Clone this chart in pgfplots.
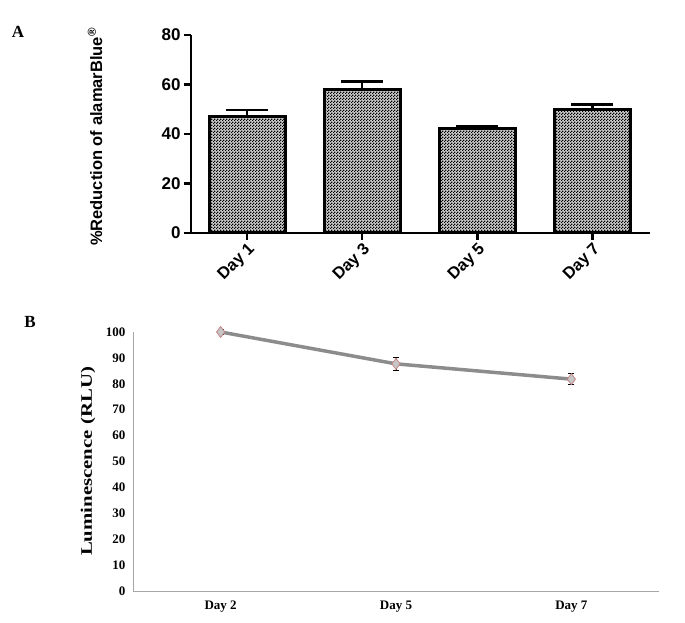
\documentclass[border=0pt]{standalone}
\usepackage{pgfplots}
\pgfplotsset{compat=1.18}
\usepackage{fontspec}
\setmainfont{Liberation Serif}
\setsansfont{Liberation Sans}
\usetikzlibrary{patterns}
\pgfdeclarepatternformonly{finecheck}{\pgfpointorigin}{\pgfpoint{3pt}{3pt}}{\pgfpoint{3pt}{3pt}}{%
  \pgfpathrectangle{\pgfpointorigin}{\pgfpoint{1.5pt}{1.5pt}}%
  \pgfpathrectangle{\pgfpoint{1.5pt}{1.5pt}}{\pgfpoint{1.5pt}{1.5pt}}%
  \pgfusepath{fill}}
\begin{document}
\begin{tikzpicture}
\useasboundingbox (0pt,0pt) rectangle (685pt,622pt);
% panel labels
\node[font=\fontsize{17}{17}\selectfont\bfseries] at (18pt,590pt) {A};
\node[font=\fontsize{17}{17}\selectfont\bfseries] at (30pt,300pt) {B};
% Panel A
\begin{axis}[
  at={(191pt,389pt)}, anchor=south west,
  scale only axis, width=459pt, height=198pt,
  xmin=-0.487, xmax=3.5, ymin=0, ymax=80,
  axis x line=bottom, axis y line=left,
  axis line style={line width=2.6pt,-},
  ytick={0,20,40,60,80},
  xtick={0,1,2,3},
  xticklabels={Day 1,Day 3,Day 5,Day 7},
  tick style={line width=2.6pt,black},
  major tick length=7pt,
  ytick align=outside, xtick align=outside,
  /pgf/number format/assume math mode=true,
  tick label style={font=\sffamily\bfseries\fontsize{17}{17}\selectfont},
  x tick label style={rotate=45, anchor=north east, inner sep=1pt,font=\sffamily\bfseries\fontsize{16.5}{16.5}\selectfont},
  ylabel={\%Reduction of alamarBlue\textsuperscript{\textregistered}},
  ylabel style={font=\sffamily\bfseries\fontsize{16.5}{16.5}\selectfont, at={(axis description cs:-0.209,0.485)}, anchor=center},
  clip=false,
]
\addplot[ybar, bar width=76pt, draw=black, line width=3pt,
  fill=gray!40, postaction={pattern=finecheck, pattern color=black},
  error bars/.cd, y dir=plus, y explicit, error mark=|,
  error bar style={line width=2.6pt,black},
  error mark options={line width=2.6pt, mark size=21pt, black}]
coordinates {(0,47) +- (0,2.7) (1,58) +- (0,3.2) (2,42.3) +- (0,0.8) (3,49.7) +- (0,2.2)};
\end{axis}
% Panel B
\begin{axis}[
  at={(133pt,31pt)}, anchor=south west,
  scale only axis, width=526pt, height=259pt,
  xmin=-0.5, xmax=2.5, ymin=0, ymax=100,
  axis x line=bottom, axis y line=left,
  axis line style={gray!70, line width=0.6pt, -},
  ytick={0,10,...,100},
  xtick={0,1,2}, xticklabels={Day 2,Day 5,Day 7},
  major tick length=0pt,
  /pgf/number format/assume math mode=true,
  tick label style={font=\bfseries\fontsize{13}{13}\selectfont},
  yticklabel style={xshift=-4pt},
  xticklabel style={yshift=-6pt},
  ylabel={\scalebox{1.3}[1]{Luminescence (RLU)}},
  ylabel style={font=\bfseries\fontsize{16}{16}\selectfont, at={(axis description cs:-0.0856,0.5)}, anchor=center},
  clip=false,
]
\addplot[gray!50!black!60, line width=3.5pt,
  mark=diamond*, mark size=5.5pt,
  mark options={fill=gray!45, draw=red!35!gray!70, line width=0.8pt},
  error bars/.cd, y dir=both, y explicit, error mark=|,
  error bar style={line width=1pt,black},
  error mark options={line width=1pt, mark size=3pt, black}]
coordinates {(0,100) +- (0,1) (1,87.7) +- (0,2.6) (2,81.8) +- (0,2.1)};
\end{axis}
\end{tikzpicture}
\end{document}
